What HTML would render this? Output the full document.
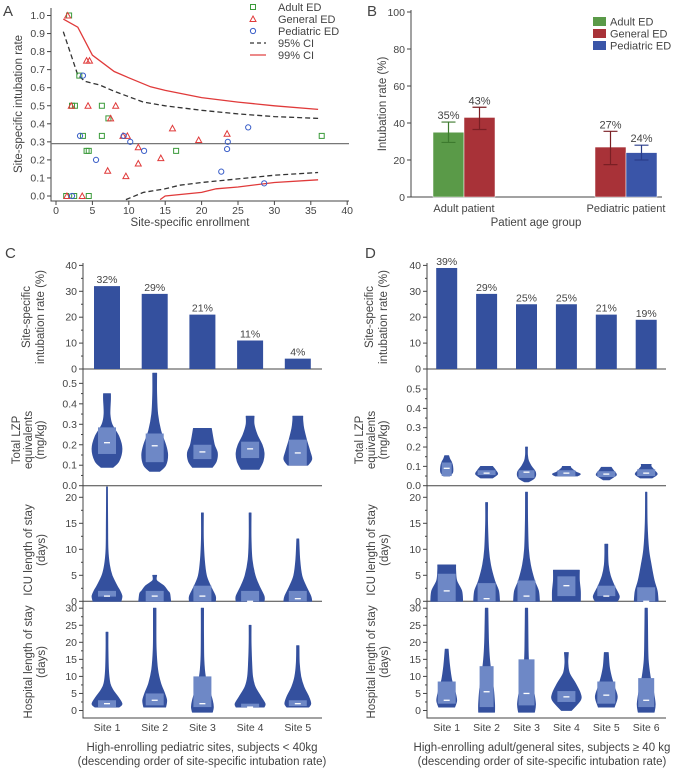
<!DOCTYPE html>
<html><head><meta charset="utf-8"><style>
body{margin:0;background:#fff}
svg{font-family:"Liberation Sans",sans-serif;fill:#444}
text{fill:#444}
</style></head><body>
<svg id="s" width="678" height="770" viewBox="0 0 678 770" xmlns="http://www.w3.org/2000/svg">
<text x="3" y="16" font-size="15">A</text>
<text x="367" y="16" font-size="15">B</text>
<text x="5" y="258" font-size="15">C</text>
<text x="365" y="258" font-size="15">D</text>
<g id="gA"></g>
<g id="gB"></g>
<g id="gC"></g>
<g id="gD"></g>
</svg>
<script>
// ---------- Panel A data ----------
const adultPts = [[1.8,1.0],[3.2,0.667],[2.2,0.5],[2.6,0.5],[6.3,0.5],[7.2,0.43],[3.7,0.333],[6.3,0.333],[4.2,0.25],[4.5,0.25],[16.5,0.25],[36.5,0.333],[1.4,0],[2.5,0],[4.5,0]];
const generalPts = [[1.6,1.0],[4.2,0.75],[4.6,0.75],[2.1,0.5],[4.4,0.5],[8.2,0.5],[7.5,0.43],[9.2,0.333],[9.8,0.333],[16,0.375],[19.6,0.31],[23.5,0.345],[11.3,0.27],[14.4,0.21],[11.3,0.18],[7.1,0.14],[9.6,0.11],[1.5,0],[3.6,0]];
const pediatricPts = [[3.7,0.667],[3.3,0.333],[9.3,0.333],[10.2,0.3],[12.1,0.25],[5.5,0.2],[26.4,0.38],[23.6,0.3],[23.5,0.26],[22.7,0.135],[28.6,0.07],[2.2,0]];
const ci95Upper = [[1,0.91],[3,0.67],[4,0.635],[6,0.615],[8,0.58],[10,0.55],[12,0.52],[15,0.5],[20,0.475],[25,0.455],[30,0.44],[36,0.43]];
const ci95Lower = [[9.6,-0.02],[12,0.02],[15,0.04],[17,0.06],[20,0.075],[25,0.095],[30,0.115],[36,0.13]];
const ci99Upper = [[1,0.98],[3,0.935],[5,0.78],[8,0.69],[10,0.655],[13,0.605],[15,0.585],[20,0.545],[25,0.52],[30,0.5],[36,0.48]];
const ci99Lower = [[14.3,-0.02],[15,0],[20,0.02],[22,0.04],[25,0.05],[30,0.075],[36,0.09]];
const overallRate = 0.29;
const aXTicks = [0,5,10,15,20,25,30,35,40];
const aYTicks = [0.0,0.1,0.2,0.3,0.4,0.5,0.6,0.7,0.8,0.9,1.0];
// ---------- Panel B data ----------
const bGroups = ["Adult patient","Pediatric patient"];
const bSeries = ["Adult ED","General ED","Pediatric ED"];
const bValues = [[35,43,null],[null,27,24]];
const bErrLow = [[29.5,36.5,null],[null,17.5,20]];
const bErrHigh = [[40.5,48.5,null],[null,35.5,28]];
const bYTicks = [0,20,40,60,80,100];
// ---------- Panel C data ----------
const cSites = ["Site 1","Site 2","Site 3","Site 4","Site 5"];
const cRates = [32,29,21,11,4];
const cLZP = [
 {p:[[0.09,6],[0.12,12],[0.18,15],[0.24,12],[0.3,5],[0.35,3],[0.42,3.5],[0.45,3.5]],q:[0.155,0.285],m:0.21},
 {p:[[0.07,5],[0.1,11],[0.15,13],[0.2,11],[0.27,6],[0.35,3],[0.45,2],[0.55,2]],q:[0.115,0.255],m:0.195},
 {p:[[0.09,10],[0.12,14],[0.16,15],[0.2,12],[0.25,10],[0.28,9]],q:[0.13,0.2],m:0.165},
 {p:[[0.08,9],[0.12,13],[0.16,14],[0.2,12],[0.25,7],[0.3,4],[0.34,4]],q:[0.135,0.215],m:0.18},
 {p:[[0.1,10],[0.13,14],[0.17,12],[0.22,9],[0.28,6],[0.32,5],[0.34,5]],q:[0.1,0.225],m:0.16}];
const cICU = [
 {p:[[0,14],[1,15],[2,13],[3,10],[5,5],[7,2.5],[10,1],[15,0.7],[22,0.5]],q:[0.9,2],m:1},
 {p:[[0,16],[1.5,15],[2,13],[3,9],[4,2],[5,2]],q:[0,2],m:1},
 {p:[[0,13],[1,13],[3,8],[5,4],[8,2],[12,1],[17,1]],q:[0,3],m:1},
 {p:[[0,14],[1,14],[3,9],[5,5],[8,2],[12,1],[17,1]],q:[0,2],m:0},
 {p:[[0,14],[1,13],[3,8],[5,4],[8,2],[12,1]],q:[0,2],m:0.5}];
const cHosp = [
 {p:[[1,12],[2,15],[4,11],[6,6],[8,3],[12,1.5],[18,1],[23,1]],q:[1,3],m:2},
 {p:[[1,11],[3,12],[5,10],[8,6],[12,3],[18,1.5],[25,1.3],[30,1.3]],q:[1.5,5],m:3},
 {p:[[-0.5,10],[1,11],[3,10],[6,7],[10,3],[15,1.5],[22,1.2],[30,1.2]],q:[1,10],m:2},
 {p:[[1,14],[2,15],[4,11],[7,5],[10,2.5],[15,1.5],[20,1],[25,1]],q:[1,2],m:1},
 {p:[[1,11],[2,13],[4,11],[7,6],[10,3],[14,1.5],[19,1.2]],q:[1.3,3],m:2}];
// ---------- Panel D data ----------
const dSites = ["Site 1","Site 2","Site 3","Site 4","Site 5","Site 6"];
const dRates = [39,29,25,25,21,19];
const dLZP = [
 {p:[[0.05,3],[0.07,6],[0.1,6],[0.12,5],[0.14,3],[0.155,2]],q:[0.05,0.12],m:0.09},
 {p:[[0.04,6],[0.06,11],[0.08,9],[0.1,6]],q:[0.055,0.08],m:0.065},
 {p:[[0.02,2],[0.04,8],[0.07,9],[0.1,5],[0.13,2],[0.16,1],[0.2,1]],q:[0.04,0.08],m:0.07},
 {p:[[0.05,11],[0.06,14],[0.07,10],[0.09,5],[0.1,4]],q:[0.05,0.08],m:0.065},
 {p:[[0.03,3],[0.05,9],[0.06,10],[0.08,7],[0.095,5]],q:[0.045,0.075],m:0.06},
 {p:[[0.04,6],[0.06,11],[0.08,8],[0.1,5],[0.11,5]],q:[0.05,0.085],m:0.065}];
const dICU = [
 {p:[[0,16],[2,15],[4,10],[6,9],[7,9]],q:[0,5.3],m:2},
 {p:[[0,13],[2,12],[4,8],[7,4],[10,2],[15,1],[19,1]],q:[0,3.5],m:0.5},
 {p:[[0,13],[2,12],[4,8],[7,4],[10,2],[15,1.2],[21,1]],q:[0,4],m:1},
 {p:[[0,14],[2,14],[4,13],[6,13]],q:[1,4.8],m:3},
 {p:[[0,11],[1,13],[3,8],[5,4],[7,2],[9,1.5],[11,1.5]],q:[1,3],m:1},
 {p:[[0,12],[2,11],[4,8],[7,5],[10,2.5],[15,1],[21,0.7]],q:[0,2.7],m:0}];
const dHosp = [
 {p:[[1,8],[3,10],[6,8],[9,5],[13,3],[18,1.5]],q:[2,8.5],m:3},
 {p:[[-0.5,8],[2,8],[6,7],[10,5],[15,3],[20,2],[30,1.3]],q:[1,13],m:5.5},
 {p:[[-0.5,8],[2,9],[6,7],[10,4],[15,2],[22,1.5],[30,1.2]],q:[1.5,15],m:5},
 {p:[[0,5],[3,14],[5,14],[8,9],[11,3],[14,1.5],[17,2]],q:[2.5,5.7],m:4},
 {p:[[1,8],[4,11],[7,8],[10,5],[13,3],[17,2]],q:[2,8.5],m:4.5},
 {p:[[-0.5,8],[2,9],[6,7],[10,4],[15,2],[22,1.5],[30,1.2]],q:[1,9.5],m:3}];
const rateTicks=[0,10,20,30,40], lzpTicks=[0,0.1,0.2,0.3,0.4,0.5], icuTicks=[0,5,10,15,20], hospTicks=[0,5,10,15,20,25,30];

const NS="http://www.w3.org/2000/svg";
function mk(parent,tag,attrs,txt){const e=document.createElementNS(NS,tag);for(const k in attrs)e.setAttribute(k,attrs[k]);if(txt!==undefined)e.textContent=txt;parent.appendChild(e);return e;}
function smooth(pts){ // catmull-rom through points [[x,y],...]
 let d='M'+pts[0][0].toFixed(1)+','+pts[0][1].toFixed(1);
 for(let i=0;i<pts.length-1;i++){const p0=pts[Math.max(0,i-1)],p1=pts[i],p2=pts[i+1],p3=pts[Math.min(pts.length-1,i+2)];
  const c1=[p1[0]+(p2[0]-p0[0])/6,p1[1]+(p2[1]-p0[1])/6],c2=[p2[0]-(p3[0]-p1[0])/6,p2[1]-(p3[1]-p1[1])/6];
  d+=` C${c1[0].toFixed(1)},${c1[1].toFixed(1)} ${c2[0].toFixed(1)},${c2[1].toFixed(1)} ${p2[0].toFixed(1)},${p2[1].toFixed(1)}`;}
 return d;}

// ===== Panel A =====
(function(){
 const g=document.getElementById('gA');
 const X=v=>56+v*7.28, Y=v=>196-v*180.5;
 const ax=mk(g,'path',{d:'M51,8 V201 H349',fill:'none',stroke:'#444','stroke-width':1});
 
 aXTicks.forEach(t=>{const l=mk(g,'line',{x1:X(t),x2:X(t),y1:201,y2:205,stroke:'#444'});
  const tx=mk(g,'text',{x:X(t),y:214,'font-size':10.5,'text-anchor':'middle'},String(t));});
 aYTicks.forEach(t=>{const l=mk(g,'line',{x1:47,x2:51,y1:Y(t),y2:Y(t),stroke:'#444'});
  const tx=mk(g,'text',{x:45,y:Y(t)+3.5,'font-size':10.5,'text-anchor':'end'},t.toFixed(1));});
 const yt=mk(g,'text',{x:0,y:0,'font-size':11.5,'text-anchor':'middle',transform:'translate(22,104) rotate(-90)'},'Site-specific intubation rate');
 const xt=mk(g,'text',{x:190,y:226,'font-size':11.5,'text-anchor':'middle'},'Site-specific enrollment');
 const hl=mk(g,'line',{x1:51,x2:349,y1:Y(overallRate),y2:Y(overallRate),stroke:'#777','stroke-width':1.2});
 const clipped=p=>p.map(d=>[d[0],Math.max(d[1],-0.03)]);
 function line(pts,color,dash,name){const d='M'+clipped(pts).map(p=>X(p[0]).toFixed(1)+','+Y(p[1]).toFixed(1)).join(' L');const e=mk(g,'path',{d:d,fill:'none',stroke:color,'stroke-width':1.3,'stroke-dasharray':dash});}
 line(ci95Upper,'#333','5,3','ci95-upper');line(ci95Lower,'#333','5,3','ci95-lower');
 line(ci99Upper,'#e03a3a','none','ci99-upper');line(ci99Lower,'#e03a3a','none','ci99-lower');
 function sq(x,y){return mk(g,'rect',{x:x-2.5,y:y-2.5,width:5,height:5,fill:'none',stroke:'#3a9a3a','stroke-width':1});}
 function tri(x,y){return mk(g,'path',{d:`M${x},${y-3} L${x+3},${y+2.5} L${x-3},${y+2.5} Z`,fill:'none',stroke:'#e03a3a','stroke-width':1});}
 function circ(x,y){return mk(g,'circle',{cx:x,cy:y,r:2.6,fill:'none',stroke:'#3a5ec8','stroke-width':1});}
 adultPts.forEach(p=>{const e=sq(X(p[0]),Y(p[1]));});
 generalPts.forEach(p=>{const e=tri(X(p[0]),Y(p[1]));});
 pediatricPts.forEach(p=>{const e=circ(X(p[0]),Y(p[1]));});
 const lg=mk(g,'g',{});
 const labs=['Adult ED','General ED','Pediatric ED','95% CI','99% CI'];
 labs.forEach((l,i)=>{const y=7+i*12;
  if(i===0)sq(253,y);if(i===1)tri(253,y);if(i===2)circ(253,y);
  if(i===3)mk(g,'line',{x1:250,x2:266,y1:y,y2:y,stroke:'#333','stroke-dasharray':'4,3','stroke-width':1.2});
  if(i===4)mk(g,'line',{x1:250,x2:266,y1:y,y2:y,stroke:'#e03a3a','stroke-width':1.2});
  const t=mk(lg,'text',{x:278,y:y+4,'font-size':11},l);});
})();

// ===== Panel B =====
(function(){
 const g=document.getElementById('gB');
 const Y=v=>197-v*1.85;
 const cols=['#5a9a48','#a83238','#3a55a8'], dark=['#3d7a2e','#7a1f24','#2a3d8a'];
 mk(g,'path',{d:'M411,10 V197 H662',fill:'none',stroke:'#444'});
 bYTicks.forEach(t=>{mk(g,'line',{x1:407,x2:411,y1:Y(t),y2:Y(t),stroke:'#444'});
  const tx=mk(g,'text',{x:405,y:Y(t)+4,'font-size':10.5,'text-anchor':'end'},String(t));});
 const yt=mk(g,'text',{x:0,y:0,'font-size':11.5,'text-anchor':'middle',transform:'translate(386,104) rotate(-90)'},'Intubation rate (%)');
 const xt=mk(g,'text',{x:536,y:226,'font-size':11.5,'text-anchor':'middle'},'Patient age group');
 const groupX=[464,626], bw=31;
 bGroups.forEach((gname,gi)=>{
  const t=mk(g,'text',{x:groupX[gi],y:212,'font-size':11,'text-anchor':'middle'},gname);
  const present=bValues[gi].map((v,i)=>v===null?-1:i).filter(i=>i>=0);
  present.forEach((si,k)=>{
   const v=bValues[gi][si];const x=groupX[gi]-bw+k*bw;
   const r=mk(g,'rect',{x:x,y:Y(v),width:bw,height:197-Y(v),fill:cols[si],stroke:'#fff','stroke-width':0.5});
   const cx=x+bw/2;
   const eb=mk(g,'path',{d:`M${cx},${Y(bErrLow[gi][si])} V${Y(bErrHigh[gi][si])} M${cx-7},${Y(bErrLow[gi][si])} h14 M${cx-7},${Y(bErrHigh[gi][si])} h14`,stroke:dark[si],'stroke-width':1.2,fill:'none'});
   const lt=mk(g,'text',{x:cx,y:Y(bErrHigh[gi][si])-3,'font-size':11,'text-anchor':'middle'},Math.round(v)+'%');
  });
 });
 bSeries.forEach((s,i)=>{const y=17+i*12;mk(g,'rect',{x:593,y:y,width:13,height:9,fill:cols[i]});
  const t=mk(g,'text',{x:610,y:y+8.5,'font-size':11},s);});
})();

// ===== Panels C/D =====
function violinPanel(gid,cfg){
 const g=document.getElementById(gid);
 const ax=cfg.ax;
 const BLUE='#34509e', LIGHT='#6e88c6';
 const Yr=v=>369-v*2.59;
 mk(g,'path',{d:`M${ax},263 V718 H${cfg.right}`,fill:'none',stroke:'#444'});
 mk(g,'line',{x1:ax,x2:cfg.right,y1:369,y2:369,stroke:'#444'});
 mk(g,'line',{x1:ax,x2:cfg.right,y1:485.7,y2:485.7,stroke:'#444'});
 mk(g,'line',{x1:ax,x2:cfg.right,y1:601.3,y2:601.3,stroke:'#444'});
 function ticks(list,Y,fmt,name){list.forEach(t=>{mk(g,'line',{x1:ax-4,x2:ax,y1:Y(t),y2:Y(t),stroke:'#444'});
  const tx=mk(g,'text',{x:ax-6,y:Y(t)+3.5,'font-size':10.5,'text-anchor':'end'},fmt(t));});
  for(let i=0;i<list.length-1;i++){const m=(list[i]+list[i+1])/2;mk(g,'line',{x1:ax-2,x2:ax,y1:Y(m),y2:Y(m),stroke:'#444'});}}
 const Yl=v=>485.7-v*cfg.lzpScale, Yi=v=>601.3-v*5.2, Yh=v=>710.5-v*3.41;
 ticks(rateTicks,Yr,String,'rate-tick-label');
 ticks(lzpTicks,Yl,t=>t.toFixed(1),'lzp-tick-label');
 ticks(icuTicks,Yi,String,'icu-tick-label');
 ticks(hospTicks,Yh,String,'hospital-tick-label');
 function ylab(lines,xs,cy,name){lines.forEach((l,i)=>{const t=mk(g,'text',{x:0,y:0,'font-size':11.5,'text-anchor':'middle',transform:`translate(${xs[i]},${cy}) rotate(-90)`},l);});}
 const o=cfg.lx;
 ylab(['Site-specific','intubation rate (%)'],[o+10,o+24],317,'rate-axis-title');
 ylab(['Total LZP','equivalents','(mg/kg)'],[o,o+12,o+24],440,'lzp-axis-title');
 ylab(['ICU length of stay','(days)'],[o+12,o+25],550,'icu-axis-title');
 ylab(['Hospital length of stay','(days)'],[o+12,o+25],662,'hospital-axis-title');
 cfg.sites.forEach((s,i)=>{
  const cx=cfg.x0+i*cfg.dx;
  const r=mk(g,'rect',{x:cx-cfg.bw/2,y:Yr(cfg.rates[i]),width:cfg.bw,height:369-Yr(cfg.rates[i]),fill:BLUE});
  const lt=mk(g,'text',{x:cx,y:Yr(cfg.rates[i])-3,'font-size':10.5,'text-anchor':'middle'},cfg.rates[i]+'%');
  const st=mk(g,'text',{x:cx,y:731,'font-size':10.5,'text-anchor':'middle'},s);
  [[cfg.lzp,Yl,'lzp'],[cfg.icu,Yi,'icu'],[cfg.hosp,Yh,'hospital']].forEach(([arr,Y,nm])=>{
   const v=arr[i];
   const rightPts=v.p.map(p=>[cx+p[1],Y(p[0])]);
   const leftPts=v.p.slice().reverse().map(p=>[cx-p[1],Y(p[0])]);
   const dR=smooth(rightPts), dL=smooth(leftPts).replace(/^M/,'L');
   const vp=mk(g,'path',{d:dR+' '+dL+' Z',fill:BLUE,stroke:BLUE,'stroke-width':0.8,'stroke-linejoin':'round'});
   const minW=Math.min(...v.p.map(p=>p[1]));
   const bh=Math.max(minW,Math.min(9,Math.max(...v.p.map(p=>p[1]))-1));
   const bx=mk(g,'rect',{x:cx-Math.min(9,bh),y:Y(v.q[1]),width:2*Math.min(9,bh),height:Math.max(1,Y(v.q[0])-Y(v.q[1])),fill:LIGHT});
   const md=mk(g,'line',{x1:cx-3,x2:cx+3,y1:Y(v.m),y2:Y(v.m),stroke:'#fff','stroke-width':1.3});
  });
 });
 const t1=mk(g,'text',{x:cfg.tx,y:751,'font-size':11.5,'text-anchor':'middle'},cfg.title1);
 const t2=mk(g,'text',{x:cfg.tx,y:765,'font-size':11.5,'text-anchor':'middle'},'(descending order of site-specific intubation rate)');
}
violinPanel('gC',{ax:83,right:322,sites:cSites,rates:cRates,lzp:cLZP,icu:cICU,hosp:cHosp,x0:107,dx:47.7,bw:26,lzpScale:204.7,lx:20,tx:202,title1:'High-enrolling pediatric sites, subjects < 40kg'});
violinPanel('gD',{ax:427,right:666,sites:dSites,rates:dRates,lzp:dLZP,icu:dICU,hosp:dHosp,x0:446.7,dx:39.9,bw:21,lzpScale:193.3,lx:363,tx:542,title1:'High-enrolling adult/general sites, subjects \u2265 40 kg'});
</script>
</body></html>
